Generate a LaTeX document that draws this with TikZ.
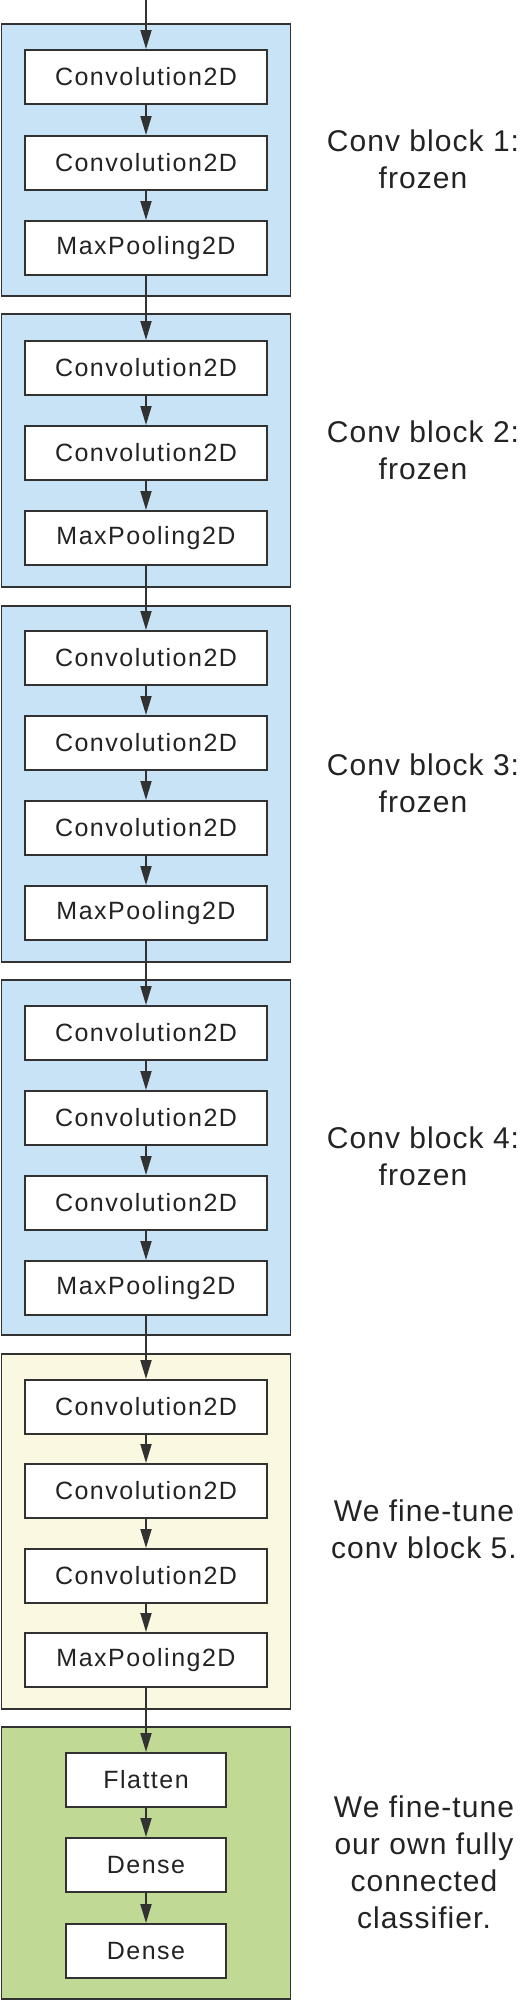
\documentclass[tikz,border=0pt]{standalone}
\usepackage{fontspec}
\setmainfont{Liberation Sans}
\newfontfamily\boxfont[LetterSpace=6]{Liberation Sans}
\newfontfamily\labfont[LetterSpace=3.5]{Liberation Sans}
\usetikzlibrary{arrows.meta}
\definecolor{blockblue}{RGB}{201,227,246}
\definecolor{blockyellow}{RGB}{250,248,225}
\definecolor{blockgreen}{RGB}{192,218,150}
\definecolor{linegray}{RGB}{50,50,50}
\definecolor{textgray}{RGB}{35,35,35}
\begin{document}
\begin{tikzpicture}[x=1pt,y=-1pt,
 block/.style={draw=linegray, line width=1.6pt, minimum width=289pt, inner sep=0pt, anchor=north},
 layer/.style={draw=linegray, fill=white, line width=1.8pt, minimum width=242pt, minimum height=54pt, inner sep=0pt, anchor=north, font=\boxfont\fontsize{25}{30}\selectfont, text=textgray},
 small/.style={layer, minimum width=160pt},
 lab/.style={align=center, font=\labfont\fontsize{30}{37}\selectfont, text=textgray},
 arr/.style={draw=linegray, line width=1.8pt, -{Triangle[length=19pt,width=11pt]}}
]
\useasboundingbox (0,0) rectangle (521,2000);

% outer blocks
\node[block, fill=blockblue,   minimum height=272pt] (B1) at (146,23) {};
\node[block, fill=blockblue,   minimum height=273pt] (B2) at (146,313) {};
\node[block, fill=blockblue,   minimum height=356pt] (B3) at (146,605) {};
\node[block, fill=blockblue,   minimum height=355pt] (B4) at (146,979) {};
\node[block, fill=blockyellow, minimum height=355pt] (B5) at (146,1353) {};
\node[block, fill=blockgreen,  minimum height=272pt] (B6) at (146,1726) {};

% block 1
\node[layer] (c11) at (146,49)  {Convolution2D};
\node[layer] (c12) at (146,135) {Convolution2D};
\node[layer] (m1)  at (146,220) {MaxPooling2D};
% block 2
\node[layer] (c21) at (146,340) {Convolution2D};
\node[layer] (c22) at (146,425) {Convolution2D};
\node[layer] (m2)  at (146,510) {MaxPooling2D};
% block 3
\node[layer] (c31) at (146,630) {Convolution2D};
\node[layer] (c32) at (146,715) {Convolution2D};
\node[layer] (c33) at (146,800) {Convolution2D};
\node[layer] (m3)  at (146,885) {MaxPooling2D};
% block 4
\node[layer] (c41) at (146,1005) {Convolution2D};
\node[layer] (c42) at (146,1090) {Convolution2D};
\node[layer] (c43) at (146,1175) {Convolution2D};
\node[layer] (m4)  at (146,1260) {MaxPooling2D};
% block 5
\node[layer] (c51) at (146,1379) {Convolution2D};
\node[layer] (c52) at (146,1463) {Convolution2D};
\node[layer] (c53) at (146,1548) {Convolution2D};
\node[layer] (m5)  at (146,1632) {MaxPooling2D};
% classifier
\node[small] (fl) at (146,1752) {Flatten};
\node[small] (d1) at (146,1837) {Dense};
\node[small] (d2) at (146,1923) {Dense};

% arrows
\coordinate (top) at (146,0);
\draw[arr] (top) -- (c11);
\draw[arr] (c11) -- (c12);
\draw[arr] (c12) -- (m1);
\draw[arr] (m1) -- (c21);
\draw[arr] (c21) -- (c22);
\draw[arr] (c22) -- (m2);
\draw[arr] (m2) -- (c31);
\draw[arr] (c31) -- (c32);
\draw[arr] (c32) -- (c33);
\draw[arr] (c33) -- (m3);
\draw[arr] (m3) -- (c41);
\draw[arr] (c41) -- (c42);
\draw[arr] (c42) -- (c43);
\draw[arr] (c43) -- (m4);
\draw[arr] (m4) -- (c51);
\draw[arr] (c51) -- (c52);
\draw[arr] (c52) -- (c53);
\draw[arr] (c53) -- (m5);
\draw[arr] (m5) -- (fl);
\draw[arr] (fl) -- (d1);
\draw[arr] (d1) -- (d2);

% labels
\node[lab] (l1) at (423,159)  {Conv block 1:\\frozen};
\node[lab] (l2) at (423,450)  {Conv block 2:\\frozen};
\node[lab] (l3) at (423,783)  {Conv block 3:\\frozen};
\node[lab] (l4) at (423,1156) {Conv block 4:\\frozen};
\node[lab] (l5) at (424,1529) {We fine-tune\\conv block 5.};
\node[lab] (l6) at (424,1862) {We fine-tune\\our own fully\\connected\\classifier.};
\end{tikzpicture}
\end{document}
